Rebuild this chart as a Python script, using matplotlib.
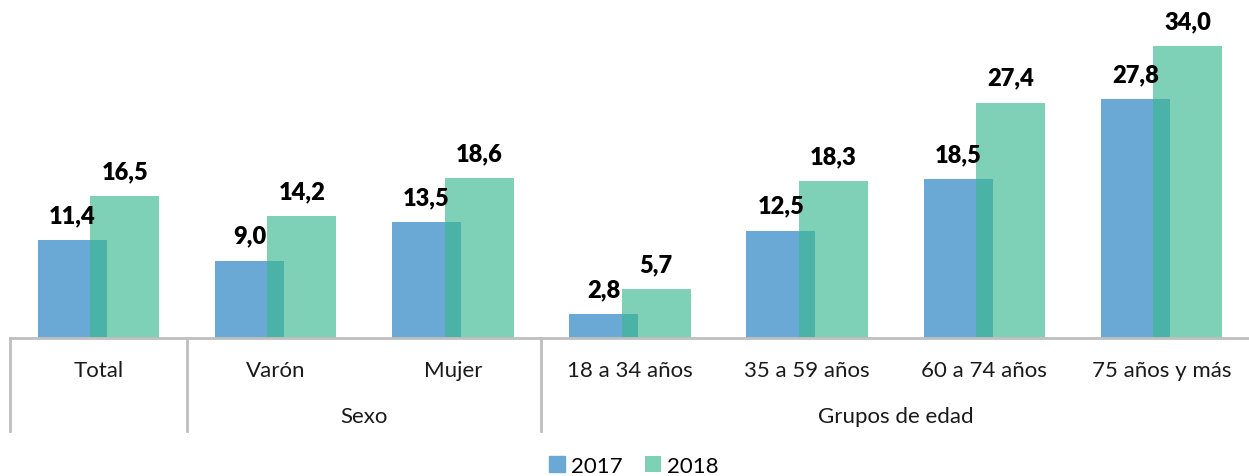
import numpy as np
import matplotlib.pyplot as plt
from matplotlib.patches import Patch

plt.rcParams['font.family'] = ['Lato', 'DejaVu Sans']

categories = ['Total', 'Varón', 'Mujer', '18 a 34 años', '35 a 59 años',
              '60 a 74 años', '75 años y más']
groups = ['', 'Sexo', 'Grupos de edad']
group_bounds = [0, 1, 3, 7]  # category index where each group starts/ends
v2017 = [11.4, 9.0, 13.5, 2.8, 12.5, 18.5, 27.8]
v2018 = [16.5, 14.2, 18.6, 5.7, 18.3, 27.4, 34.0]

blue = '#6aa8d6'
green = '#3bb891'

fig = plt.figure(figsize=(12.49, 4.77), dpi=100)
ax = fig.add_axes([10 / 1249, 138 / 477, 1240 / 1249, 339 / 477])

x = np.arange(len(categories)) + 0.5
w = 0.39
off = 0.148

b1 = ax.bar(x - off, v2017, w, color=blue, zorder=2)
b2 = ax.bar(x + off, v2018, w, color=green, alpha=0.66, zorder=3)

def fmt(v):
    return f'{v:.1f}'.replace('.', ',')

for xi, v in zip(x - off, v2017):
    ax.text(xi, v + 2.9, fmt(v), ha='center', va='center',
            fontsize=17, fontweight='heavy', color='black')
for xi, v in zip(x + off, v2018):
    ax.text(xi, v + 2.9, fmt(v), ha='center', va='center',
            fontsize=17, fontweight='heavy', color='black')

ax.set_xlim(0, len(categories))
ax.set_ylim(0, 339 / 8.59)
ax.axis('off')

# category axis with group separators
line_col = '#bfbfbf'
ax.plot([0, len(categories)], [0, 0], color=line_col, lw=2, clip_on=False, zorder=4)
for gb in group_bounds[:-1]:
    ax.plot([gb, gb], [0, -93 / 8.59], color=line_col, lw=2, clip_on=False)

for xi, c in zip(x, categories):
    ax.text(xi, -32 / 8.59, c, ha='center', va='center', fontsize=16, color='#1a1a1a')

for i, g in enumerate(groups):
    if g:
        gx = (group_bounds[i] + group_bounds[i + 1]) / 2
        ax.text(gx, -78 / 8.59, g, ha='center', va='center', fontsize=16, color='#1a1a1a')

handles = [Patch(color=blue), Patch(facecolor=green, alpha=0.66)]
fig.legend(handles, ['2017', '2018'], loc='center', bbox_to_anchor=(634 / 1249, 10 / 477),
           ncol=2, frameon=False, fontsize=16, handlelength=0.7, handleheight=0.7,
           handletextpad=0.3, columnspacing=1.0)

fig.savefig('out.png', dpi=100)
